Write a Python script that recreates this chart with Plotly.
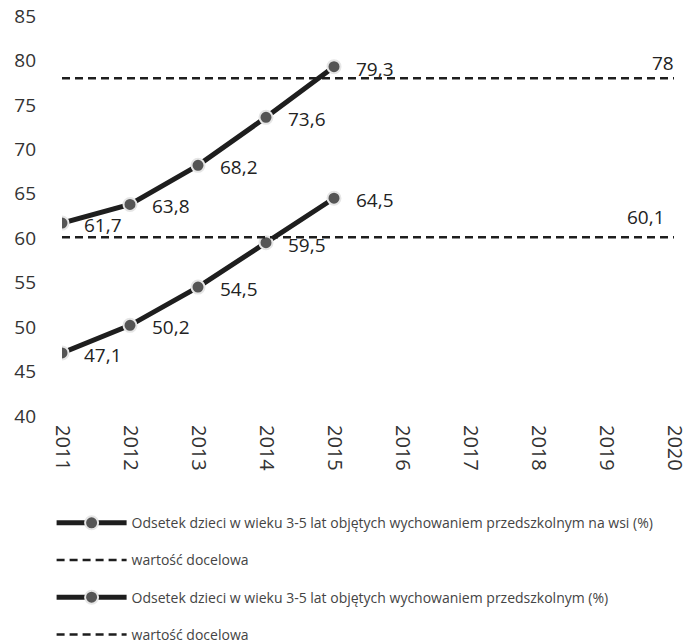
import plotly.graph_objects as go

years_all = [2011, 2012, 2013, 2014, 2015, 2016, 2017, 2018, 2019, 2020]
years_data = [2011, 2012, 2013, 2014, 2015]

total = [61.7, 63.8, 68.2, 73.6, 79.3]
rural = [47.1, 50.2, 54.5, 59.5, 64.5]
target_total = [78, 78, 78, 78, 78, 78, 78, 78, 78, 78]
target_rural = [60.1, 60.1, 60.1, 60.1, 60.1, 60.1, 60.1, 60.1, 60.1, 60.1]

name_rural = "Odsetek dzieci w wieku 3-5 lat objętych wychowaniem przedszkolnym na wsi (%)"
name_total = "Odsetek dzieci w wieku 3-5 lat objętych wychowaniem przedszkolnym (%)"
name_target = "wartość docelowa"

FONT = "Open Sans"
LINE_C = "#1e1e1e"
MARK_C = "#555555"
TXT_C = "#222222"


def fmt(v):
    return ("%g" % v).replace(".", ",")


fig = go.Figure()

fig.add_trace(go.Scatter(
    x=years_data, y=rural, name=name_rural, legendgroup="a",
    mode="lines+markers",
    line=dict(color=LINE_C, width=5),
    marker=dict(size=13, color=MARK_C, line=dict(color="#e6e6e6", width=2)),
))
fig.add_trace(go.Scatter(
    x=years_all, y=target_rural, name=name_target, legendgroup="b",
    mode="lines",
    line=dict(color=LINE_C, width=2.5, dash="8px,5px"),
))
fig.add_trace(go.Scatter(
    x=years_data, y=total, name=name_total, legendgroup="c",
    mode="lines+markers",
    line=dict(color=LINE_C, width=5),
    marker=dict(size=13, color=MARK_C, line=dict(color="#e6e6e6", width=2)),
))
fig.add_trace(go.Scatter(
    x=years_all, y=target_total, name=name_target, legendgroup="d",
    mode="lines",
    line=dict(color=LINE_C, width=2.5, dash="8px,5px"),
))

annotations = []
for xs, ys in ((years_data, rural), (years_data, total)):
    for xv, yv in zip(xs, ys):
        annotations.append(dict(
            x=xv, y=yv, text=fmt(yv), showarrow=False,
            xanchor="left", yanchor="middle", xshift=20, yshift=-2,
            font=dict(family=FONT, size=19, color=TXT_C),
        ))
annotations.append(dict(
    x=years_all[-1], y=target_total[-1], text=fmt(target_total[-1]), showarrow=False,
    xanchor="right", yanchor="middle", xshift=2, yshift=15,
    font=dict(family=FONT, size=19, color=TXT_C),
))
annotations.append(dict(
    x=years_all[-1], y=target_rural[-1], text=fmt(target_rural[-1]), showarrow=False,
    xanchor="right", yanchor="middle", xshift=-7, yshift=20,
    font=dict(family=FONT, size=19, color=TXT_C),
))

fig.update_layout(
    width=688, height=643,
    margin=dict(l=62, r=14, t=16, b=227, autoexpand=False),
    paper_bgcolor="white", plot_bgcolor="white",
    font=dict(family=FONT, color="#333"),
    showlegend=True,
    annotations=annotations,
    legend=dict(
        orientation="v", x=-0.017, xanchor="left", y=-0.228, yanchor="top",
        font=dict(family=FONT, size=14, color="#444"),
        traceorder="grouped", tracegroupgap=16, itemwidth=70,
        bgcolor="rgba(0,0,0,0)",
    ),
)
fig.update_xaxes(
    range=[2011, 2020], tickmode="array", tickvals=years_all,
    ticktext=[str(y) for y in years_all], tickangle=90,
    showgrid=False, zeroline=False, showline=False, automargin=False,
    ticklabeloverflow="allow", ticklabelstandoff=8,
    tickfont=dict(family=FONT, size=20, color="#333"),
)
fig.update_yaxes(
    range=[40, 85], dtick=5, showgrid=False, zeroline=False, showline=False,
    automargin=False,
    tickfont=dict(family=FONT, size=19, color="#333"),
    ticklabelstandoff=25,
)

fig.write_html(
    "out.html",
    config={"displayModeBar": False},
    post_script="document.body.style.margin='0';document.body.style.padding='0';",
)
